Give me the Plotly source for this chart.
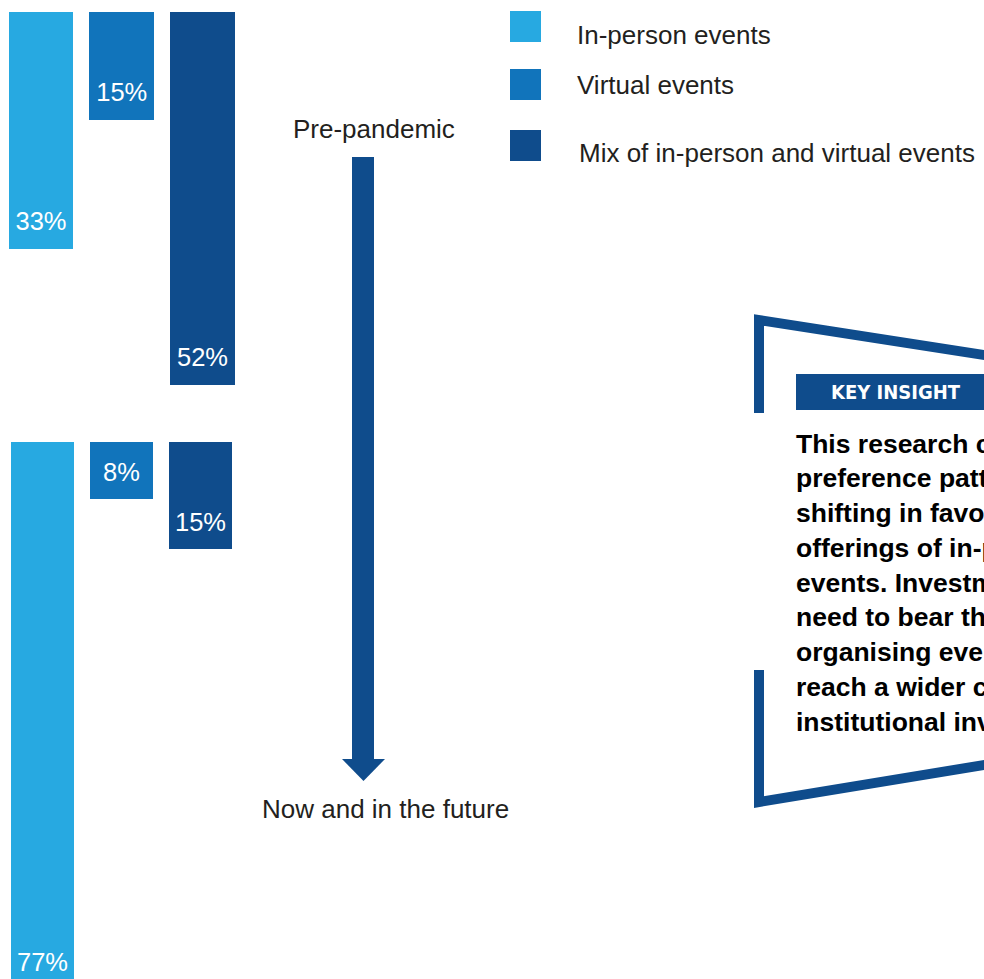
import plotly.graph_objects as go

# ---------------- data ----------------
categories = ["In-person events", "Virtual events", "Mix of in-person and virtual events"]
pre_pandemic = [33, 15, 52]
now_future = [77, 8, 15]
period_labels = ["Pre-pandemic", "Now and in the future"]
insight_title = "KEY INSIGHT"
insight_lines = [
    "This research clearly shows that",
    "preference patterns are",
    "shifting in favour of hybrid",
    "offerings of in-person and virtual",
    "events. Investment managers",
    "need to bear this in mind when",
    "organising events in order to",
    "reach a wider circle of",
    "institutional investors.",
]

# ---------------- style ----------------
colors = ["#27A9E1", "#1174BB", "#0F4C8C"]
DARK = "#0F4C8C"
TXT = "#231F20"
FONT = "Liberation Sans, Arial, Helvetica, sans-serif"
NARROW = "DejaVu Sans Condensed, Liberation Sans Narrow, Arial Narrow, sans-serif"
W, H = 984, 979


def px(x):
    return x / W


def py(y):
    return 1 - y / H


fig = go.Figure()

for vals, xa, ya, bw in [(pre_pandemic, "x", "y", 0.8), (now_future, "x2", "y2", 0.797)]:
    fig.add_trace(go.Bar(
        x=categories, y=vals, marker=dict(color=colors, line=dict(width=0)),
        width=bw, xaxis=xa, yaxis=ya, hoverinfo="skip", showlegend=False,
    ))
    fig.add_trace(go.Scatter(
        x=categories, y=vals, mode="markers+text",
        text=[f"{v}%" for v in vals], textposition="top center",
        marker=dict(size=17, opacity=0),
        textfont=dict(color="white", size=25.5, family=FONT),
        xaxis=xa, yaxis=ya, hoverinfo="skip", showlegend=False, cliponaxis=True,
    ))

shapes = []
annotations = []

# legend swatches and labels
leg_rows = [(11, 42, 34.7, 576), (69, 100, 85, 576), (130, 161, 153, 578)]
for (y0, y1, ty, tx), c, name in zip(leg_rows, colors, categories):
    shapes.append(dict(type="rect", xref="paper", yref="paper",
                       x0=px(510), x1=px(541), y0=py(y1), y1=py(y0),
                       fillcolor=c, line=dict(width=0)))
    annotations.append(dict(text=name, x=px(tx), y=py(ty), xref="paper", yref="paper",
                            xanchor="left", yanchor="middle", showarrow=False, borderpad=0,
                            font=dict(family=FONT, size=26, color=TXT)))

# timeline arrow
shapes.append(dict(type="rect", xref="paper", yref="paper",
                   x0=px(352), x1=px(374), y0=py(760), y1=py(157),
                   fillcolor=DARK, line=dict(width=0)))
shapes.append(dict(type="path", xref="paper", yref="paper",
                   path=f"M {px(342)} {py(759)} L {px(385)} {py(759)} L {px(363.5)} {py(781)} Z",
                   fillcolor=DARK, line=dict(width=0)))
annotations.append(dict(text=period_labels[0], x=px(374), y=py(128.5), xref="paper", yref="paper",
                        xanchor="center", yanchor="middle", showarrow=False, borderpad=0,
                        font=dict(family=FONT, size=26, color=TXT)))
annotations.append(dict(text=period_labels[1], x=px(385.5), y=py(809), xref="paper", yref="paper",
                        xanchor="center", yanchor="middle", showarrow=False, borderpad=0,
                        font=dict(family=FONT, size=26, color=TXT)))

# key insight frame
shapes.append(dict(type="path", xref="paper", yref="paper",
                   path=f"M {px(759)} {py(413)} L {px(759)} {py(320)} L {px(1100)} {py(373)}",
                   line=dict(color=DARK, width=10)))
shapes.append(dict(type="path", xref="paper", yref="paper",
                   path=f"M {px(759)} {py(670)} L {px(759)} {py(802)} L {px(1100)} {py(746)}",
                   line=dict(color=DARK, width=10)))
shapes.append(dict(type="rect", xref="paper", yref="paper",
                   x0=px(796), x1=px(1100), y0=py(410), y1=py(374),
                   fillcolor=DARK, line=dict(width=0)))
annotations.append(dict(text=insight_title, x=px(896), y=py(392), xref="paper", yref="paper",
                        xanchor="center", yanchor="middle", showarrow=False, borderpad=0,
                        font=dict(family=NARROW, size=20, color="white", weight="bold")))
for i, line in enumerate(insight_lines):
    annotations.append(dict(text=line, x=px(795), y=py(443.5 + 34.75 * i), xref="paper", yref="paper",
                            xanchor="left", yanchor="middle", showarrow=False, borderpad=0,
                            font=dict(family=FONT, size=26.5, color="black", weight="bold")))

fig.update_layout(
    width=W, height=H, margin=dict(l=0, r=0, t=0, b=0, pad=0),
    paper_bgcolor="white", plot_bgcolor="rgba(0,0,0,0)",
    showlegend=False, bargap=0,
    xaxis=dict(domain=[0, 1], range=[-41 / 80.75, (W - 41) / 80.75], visible=False,
               type="category", anchor="y", fixedrange=True),
    yaxis=dict(domain=[0, py(11.5)], range=[(H - 11.5) / 7.17, 0], visible=False,
               anchor="x", fixedrange=True),
    xaxis2=dict(domain=[0, 1], range=[-42.5 / 79, (W - 42.5) / 79], visible=False,
                type="category", anchor="y2", fixedrange=True),
    yaxis2=dict(domain=[0, py(442)], range=[(H - 442) / 7.1, 0], visible=False,
                anchor="x2", fixedrange=True),
    shapes=shapes, annotations=annotations,
)

fig.write_html(
    "out.html",
    config={"displayModeBar": False},
    post_script="document.body.style.margin='0';document.body.style.overflow='hidden';",
)
